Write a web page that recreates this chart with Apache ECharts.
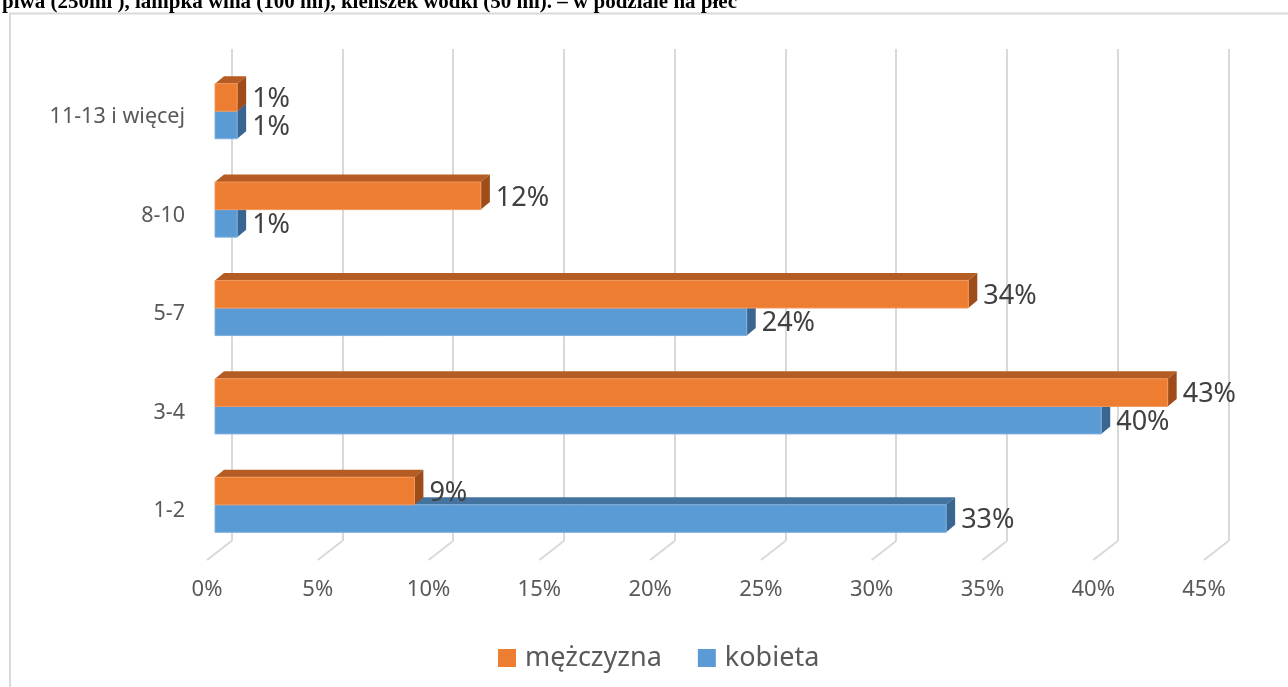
<!DOCTYPE html>
<html>
<head>
<meta charset="utf-8">
<script src="https://cdn.jsdelivr.net/npm/echarts@6/dist/echarts.min.js"></script>
<style>
  html, body { margin: 0; padding: 0; background: #fff; }
  #chart { width: 1288px; height: 687px; }
</style>
</head>
<body>
<div id="chart"></div>
<script>
const titleText = 'piwa (250ml ), lampka wina (100 ml), kieliszek wódki (50 ml). – w podziale na płeć';
const categories = ['1-2', '3-4', '5-7', '8-10', '11-13 i więcej'];
const menValues = [9, 43, 34, 12, 1];
const womenValues = [33, 40, 24, 1, 1];
const xTicks = [0, 5, 10, 15, 20, 25, 30, 35, 40, 45];

const FONT = '"Noto Sans", "Open Sans", sans-serif';
// przesunięcia pseudo-3D (px)
const BAR_SHIFT = [8, -6];
const BAR_DEPTH = [9, -7.5];
const WALL_SHIFT = [24.5, -19];

/**
 * słupek 3D: przód, góra, bok + etykieta
 */
function barRenderer(upper, colors) {
    return function (params, api) {
        const v = api.value(0);
        const idx = api.value(1);
        const start = api.coord([0, idx]);
        const end = api.coord([v, idx]);
        const band = api.size([0, 1])[1];
        const h = band * 0.28;
        const x0 = start[0] + BAR_SHIFT[0];
        const x1 = end[0] + BAR_SHIFT[0];
        const yTop = (upper ? start[1] - h : start[1]) + BAR_SHIFT[1];
        const yBot = yTop + h;
        const dx = BAR_DEPTH[0], dy = BAR_DEPTH[1];
        return {
            type: 'group',
            children: [{
                type: 'polygon',
                shape: { points: [[x0, yTop], [x1, yTop], [x1 + dx, yTop + dy], [x0 + dx, yTop + dy]] },
                style: { fill: colors.top }
            }, {
                type: 'polygon',
                shape: { points: [[x1, yTop], [x1 + dx, yTop + dy], [x1 + dx, yBot + dy], [x1, yBot]] },
                style: { fill: colors.side }
            }, {
                type: 'rect',
                shape: { x: x0, y: yTop, width: x1 - x0, height: h },
                style: { fill: colors.front, stroke: colors.edge, lineWidth: 1 }
            }, {
                type: 'text',
                z2: 10,
                style: {
                    x: x1 + 15,
                    y: (yTop + yBot) / 2 + 2,
                    text: v + '%',
                    fill: '#404040',
                    fontSize: 27,
                    fontFamily: FONT,
                    align: 'left',
                    verticalAlign: 'middle'
                }
            }]
        };
    };
}

let myChart = echarts.init(document.getElementById('chart'));

myChart.setOption({
    animation: false,
    backgroundColor: '#fff',
    graphic: [{
        type: 'rect',
        shape: { x: 10, y: 13.5, width: 1400, height: 800 },
        style: { fill: 'none', stroke: '#D9D9D9', lineWidth: 2 },
        z: -10
    }, {
        type: 'text',
        x: 2,
        y: 3,
        style: {
            text: titleText,
            fill: '#000',
            fontSize: 21,
            fontWeight: 'bold',
            fontFamily: '"Liberation Serif", "Times New Roman", serif',
            verticalAlign: 'middle'
        },
        z: 10
    }],
    legend: {
        data: ['mężczyzna', 'kobieta'],
        left: 493,
        top: 638,
        icon: 'rect',
        itemWidth: 18,
        itemHeight: 18,
        itemGap: 36,
        textStyle: {
            fontSize: 27,
            color: '#595959',
            fontFamily: FONT,
            lineHeight: 30,
            padding: [0, 0, 0, 4]
        }
    },
    grid: [
        { left: 207, right: 84, top: 68, bottom: 127 },   // przednia płaszczyzna
        { left: 207 + WALL_SHIFT[0], right: 84 - WALL_SHIFT[0], top: 68 + WALL_SHIFT[1], bottom: 127 - WALL_SHIFT[1] } // tylna ściana
    ],
    xAxis: [{
        type: 'value',
        gridIndex: 0,
        min: 0,
        max: 45,
        interval: 5,
        axisLine: { show: false },
        axisTick: { show: false },
        splitLine: { show: false },
        axisLabel: {
            formatter: '{value}%',
            fontSize: 22,
            color: '#595959',
            fontFamily: FONT,
            margin: 19
        }
    }, {
        type: 'value',
        gridIndex: 1,
        min: 0,
        max: 45,
        interval: 5,
        axisLine: { show: false },
        axisTick: { show: false },
        axisLabel: { show: false },
        splitLine: { show: true, lineStyle: { color: '#D9D9D9', width: 2 } }
    }],
    yAxis: [{
        type: 'category',
        gridIndex: 0,
        data: categories,
        axisLine: { show: false },
        axisTick: { show: false },
        axisLabel: {
            fontSize: 21.5,
            color: '#595959',
            fontFamily: FONT,
            margin: 22
        }
    }, {
        type: 'category',
        gridIndex: 1,
        data: categories,
        show: false
    }],
    series: [{
        // ukośne linie podłogi
        type: 'custom',
        silent: true,
        xAxisIndex: 0,
        yAxisIndex: 0,
        data: xTicks.map(t => [t]),
        renderItem: function (params, api) {
            const x = api.coord([api.value(0), 0])[0];
            const yb = params.coordSys.y + params.coordSys.height;
            return {
                type: 'line',
                shape: { x1: x, y1: yb, x2: x + WALL_SHIFT[0], y2: yb + WALL_SHIFT[1] },
                style: { stroke: '#D9D9D9', lineWidth: 2 }
            };
        },
        z: 1
    }, {
        name: 'kobieta',
        type: 'custom',
        xAxisIndex: 0,
        yAxisIndex: 0,
        itemStyle: { color: '#5B9BD5' },
        data: womenValues.map((v, i) => [v, i]),
        renderItem: barRenderer(false, { front: '#5B9BD5', top: '#44739F', side: '#3A6591', edge: '#7FB0DD' }),
        z: 2
    }, {
        name: 'mężczyzna',
        type: 'custom',
        xAxisIndex: 0,
        yAxisIndex: 0,
        itemStyle: { color: '#ED7D31' },
        data: menValues.map((v, i) => [v, i]),
        renderItem: barRenderer(true, { front: '#ED7D31', top: '#B45C24', side: '#9F4C1B', edge: '#F2985C' }),
        z: 3
    }]
});

window.onresize = function () {
    myChart.resize();
}
</script>
</body>
</html>
